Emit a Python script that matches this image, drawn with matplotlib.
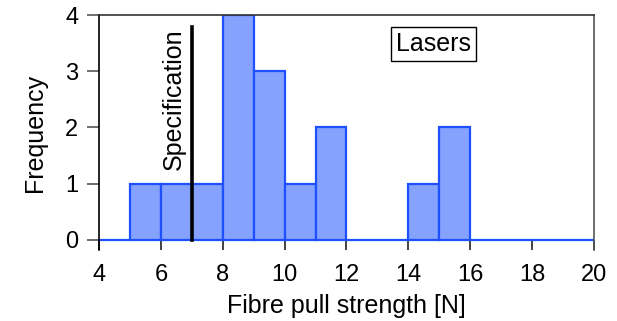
import numpy as np
import matplotlib
matplotlib.use('Agg')
import matplotlib.pyplot as plt

# bin edges and counts
bin_left = [4, 5, 6, 7, 8, 9, 10, 11, 12, 13, 14, 15, 16, 17, 18, 19]
counts = [0, 1, 1, 1, 4, 3, 1, 2, 0, 0, 1, 2, 0, 0, 0, 0]
spec_value = 7
spec_top = 3.78
xticks = [4, 6, 8, 10, 12, 14, 16, 18, 20]
yticks = [0, 1, 2, 3, 4]

plt.rcParams['font.family'] = ['Liberation Sans', 'DejaVu Sans']

fig = plt.figure(figsize=(6.17, 3.21), dpi=100)
ax = fig.add_axes([0.1605, 0.2212, 0.802, 0.732])

ax.bar(bin_left, counts, width=1, align='edge', color='#85a2ff',
       edgecolor='#1f50ff', linewidth=1.6, zorder=2)

ax.plot([spec_value, spec_value], [0, spec_top], color='black', lw=2.6, zorder=3)
ax.text(6.42, 2.5, 'Specification', rotation=90, ha='center', va='center',
        fontsize=18)
ax.text(14.8, 3.48, 'Lasers', ha='center', va='center', fontsize=18,
        bbox=dict(boxstyle='square,pad=0.2', facecolor='white',
                  edgecolor='black', linewidth=1))

ax.set_xlim(4, 20)
ax.set_ylim(-0.18, 4)
ax.set_xticks(xticks)
ax.set_yticks(yticks)

ax.spines['bottom'].set_visible(False)
ax.spines['left'].set_color('black')
ax.spines['top'].set_color('#333333')
ax.spines['right'].set_color('#555555')
for s in ax.spines.values():
    s.set_linewidth(1.2)

ax.tick_params(axis='x', direction='in', length=7, width=1.2, color='#222222',
               labelsize=17, pad=10)
ax.tick_params(axis='y', direction='out', length=9, width=1.2, color='#555555',
               labelsize=17, pad=6)

ax.set_xlabel('Fibre pull strength [N]', fontsize=18, labelpad=6)
ax.set_ylabel('Frequency', fontsize=18, labelpad=13)

fig.savefig('out.png', dpi=100)
